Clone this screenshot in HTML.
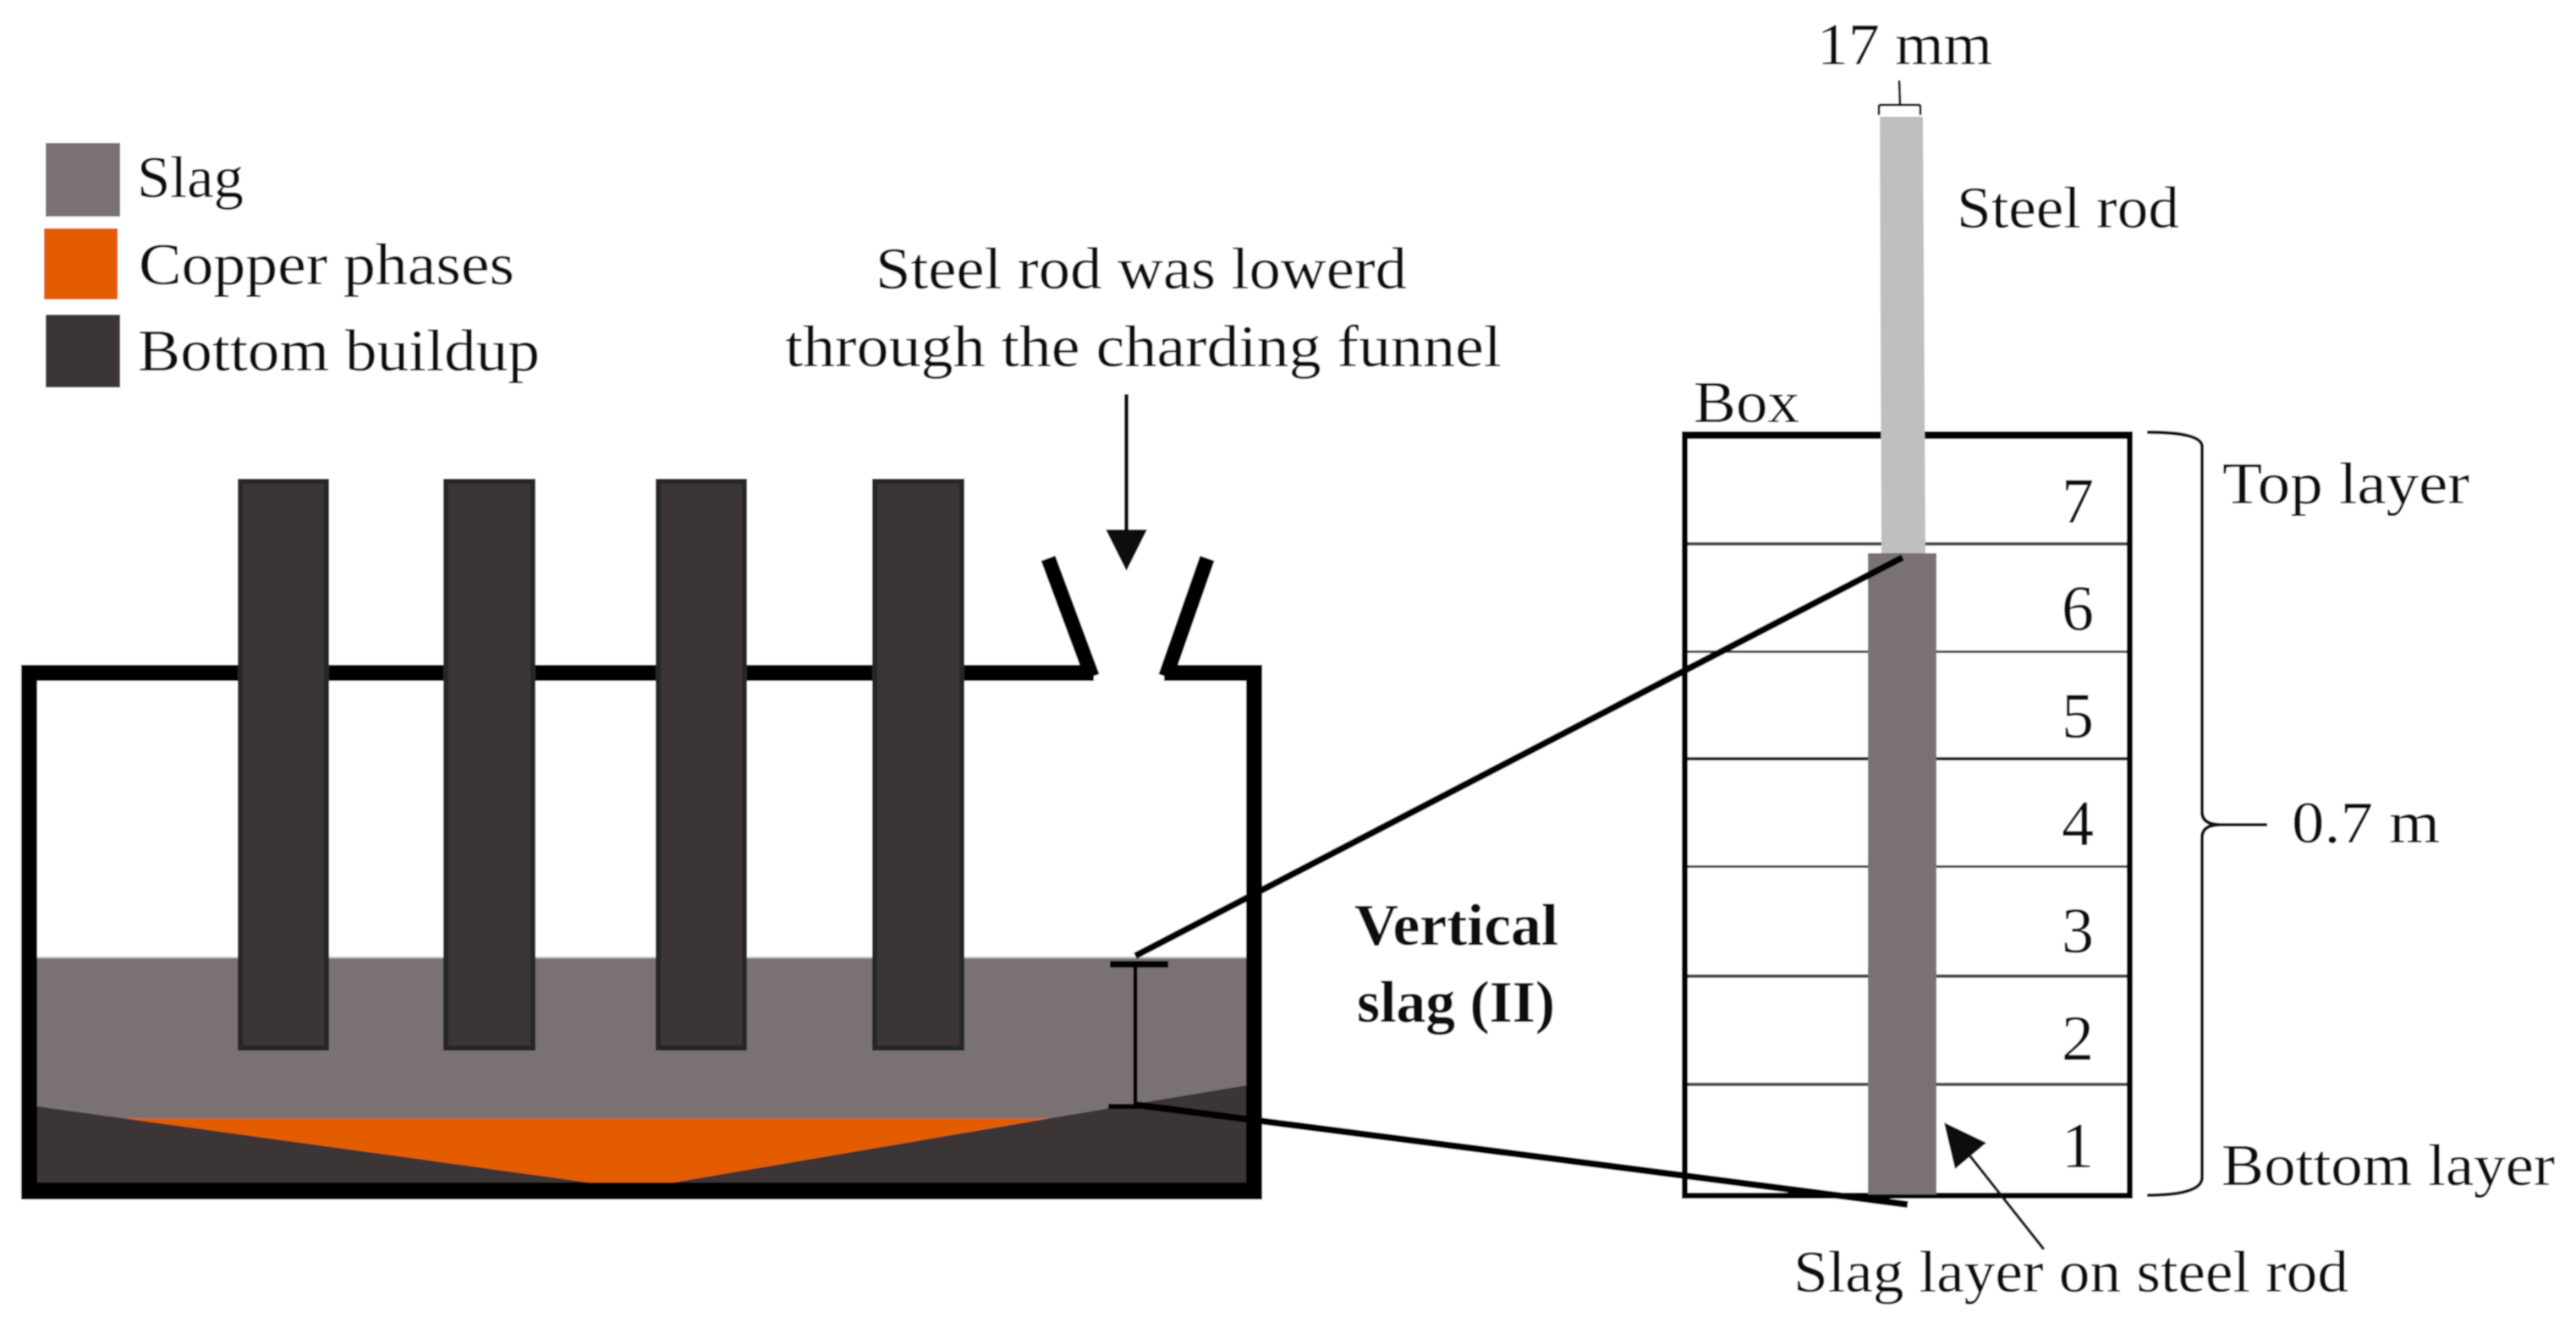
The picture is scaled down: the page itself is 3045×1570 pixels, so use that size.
<!DOCTYPE html>
<html><head><meta charset="utf-8"><style>
html,body{margin:0;padding:0;background:#fff}
svg{display:block}
text{font-family:"Liberation Serif",serif;font-size:70px;fill:#0a0a0a}
</style></head><body>
<svg xmlns="http://www.w3.org/2000/svg" width="3045" height="1570" viewBox="0 0 3045 1570">
<defs><filter id="b" x="0" y="0" width="100%" height="100%" filterUnits="objectBoundingBox"><feGaussianBlur stdDeviation="0.8"/></filter></defs>
<g filter="url(#b)">
<rect width="3045" height="1570" fill="#fff"/>
<!-- legend -->
<rect x="54" y="169" width="88" height="87" fill="#7a7272"/>
<rect x="52" y="270" width="87" height="84" fill="#e35d00"/>
<rect x="54" y="372" width="88" height="86" fill="#3a3534"/>
<text x="162" y="233" textLength="126" lengthAdjust="spacingAndGlyphs">Slag</text>
<text x="164" y="336" textLength="444" lengthAdjust="spacingAndGlyphs">Copper phases</text>
<text x="163" y="438" textLength="475" lengthAdjust="spacingAndGlyphs">Bottom buildup</text>
<!-- furnace contents -->
<rect x="44" y="1131" width="1430" height="3" fill="#c9c5c3"/>
<rect x="44" y="1133" width="1430" height="266" fill="#7a7272"/>
<polygon points="145,1322 1240,1322 796,1398 696,1398" fill="#e35d00"/>
<polygon points="44,1308 145,1322 696,1398 796,1398 1342,1305 1474,1283 1474,1399 44,1399" fill="#3a3534"/>
<!-- walls -->
<rect x="25" y="786" width="19" height="632" fill="#000"/>
<rect x="1473" y="786" width="19" height="632" fill="#000"/>
<rect x="25" y="1398" width="1467" height="20" fill="#000"/>
<rect x="25" y="786" width="1268" height="19" fill="#000"/>
<rect x="1376" y="786" width="116" height="19" fill="#000"/>
<line x1="1239" y1="660" x2="1291" y2="800" stroke="#000" stroke-width="18"/>
<line x1="1427" y1="660" x2="1378" y2="800" stroke="#000" stroke-width="18"/>
<!-- electrodes -->
<g fill="#3a3534" stroke="#272525" stroke-width="6">
<rect x="284" y="569" width="102" height="670"/>
<rect x="527" y="569" width="103" height="670"/>
<rect x="778" y="569" width="102" height="670"/>
<rect x="1034" y="569" width="103" height="670"/>
</g>
<!-- funnel text and arrow -->
<text x="1035" y="341" textLength="628" lengthAdjust="spacingAndGlyphs">Steel rod was lowerd</text>
<text x="928" y="433" textLength="847" lengthAdjust="spacingAndGlyphs">through the charding funnel</text>
<line x1="1331.5" y1="466" x2="1331.5" y2="630" stroke="#0a0a0a" stroke-width="5"/>
<polygon points="1307,626 1356,626 1331.5,675" fill="#0a0a0a"/>
<!-- I beam -->
<rect x="1312" y="1136" width="69" height="8" fill="#000"/>
<rect x="1339.5" y="1140" width="5" height="168" fill="#000"/>
<rect x="1310" y="1305" width="58" height="6" fill="#000"/>
<!-- label -->
<text x="1601" y="1117" font-weight="bold" textLength="241" lengthAdjust="spacingAndGlyphs">Vertical</text>
<text x="1604" y="1208" font-weight="bold" textLength="234" lengthAdjust="spacingAndGlyphs">slag (II)</text>
<!-- box -->
<rect x="1991.5" y="514" width="526" height="899" fill="#fff" stroke="none"/>
<g fill="#444">
<rect x="1995" y="641" width="520" height="4"/>
<rect x="1995" y="769" width="520" height="3"/>
<rect x="1995" y="895" width="520" height="4" fill="#222"/>
<rect x="1995" y="1023" width="520" height="3"/>
<rect x="1995" y="1152" width="520" height="4"/>
<rect x="1995" y="1280" width="520" height="4"/>
</g>
<rect x="1988" y="510" width="533" height="9" fill="#000"/>
<rect x="1988" y="510" width="7" height="907" fill="#000"/>
<rect x="2514" y="510" width="7" height="907" fill="#000"/>
<rect x="1988" y="1410" width="533" height="7" fill="#000"/>
<!-- rod -->
<polygon points="2222,138 2273,138 2276,656 2224,656" fill="#bfbfbf"/>
<rect x="2208" y="654" width="81" height="758" fill="#7a7272"/>
<!-- connectors -->
<line x1="1342" y1="1130" x2="2249" y2="659" stroke="#000" stroke-width="8"/>
<line x1="1342" y1="1306" x2="2255" y2="1424" stroke="#000" stroke-width="8"/>
<!-- 17mm bracket -->
<path d="M2221 136V126Q2221 124 2224 124H2267Q2270 124 2270 126V136M2245 95L2246 124" fill="none" stroke="#111" stroke-width="3"/>
<!-- big brace -->
<path d="M2538 511Q2603 511 2603 528V960Q2603 975 2625 975H2680M2625 975Q2603 975 2603 990V1392Q2603 1413 2538 1413" fill="none" stroke="#111" stroke-width="4"/>
<!-- arrow to slag layer -->
<line x1="2329" y1="1367" x2="2416" y2="1477" stroke="#0a0a0a" stroke-width="3.5"/>
<polygon points="2298,1327 2348,1351 2311,1382" fill="#0a0a0a"/>
<!-- right labels -->
<text x="2148" y="76" textLength="207" lengthAdjust="spacingAndGlyphs">17 mm</text>
<text x="2313" y="269" textLength="263" lengthAdjust="spacingAndGlyphs">Steel rod</text>
<text x="2002" y="499" textLength="125" lengthAdjust="spacingAndGlyphs">Box</text>
<text x="2627" y="595" textLength="292" lengthAdjust="spacingAndGlyphs">Top layer</text>
<text x="2709" y="996" textLength="175" lengthAdjust="spacingAndGlyphs">0.7 m</text>
<text x="2626" y="1401" textLength="394" lengthAdjust="spacingAndGlyphs">Bottom layer</text>
<text x="2120" y="1527" textLength="656" lengthAdjust="spacingAndGlyphs">Slag layer on steel rod</text>
<g text-anchor="middle" style="font-size:76px">
<text x="2456" y="618" style="font-size:76px">7</text>
<text x="2456" y="745" style="font-size:76px">6</text>
<text x="2456" y="872" style="font-size:76px">5</text>
<text x="2456" y="999" style="font-size:76px">4</text>
<text x="2456" y="1126" style="font-size:76px">3</text>
<text x="2456" y="1253" style="font-size:76px">2</text>
<text x="2456" y="1380" style="font-size:76px">1</text>
</g>
</g>
</svg>
</body></html>
